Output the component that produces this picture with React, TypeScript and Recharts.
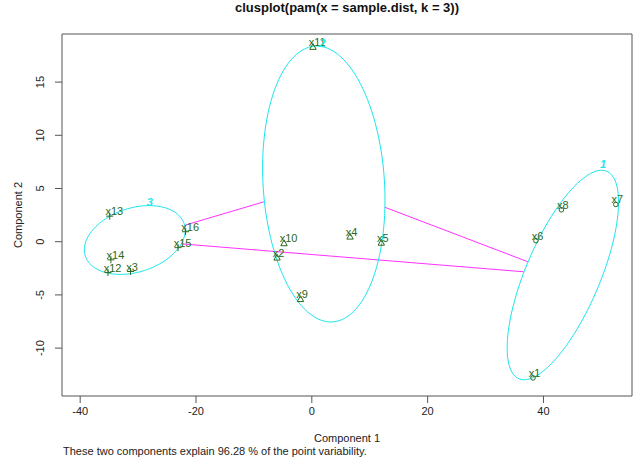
import React from "react";
import {
  ScatterChart,
  Scatter,
  XAxis,
  YAxis,
  ReferenceArea,
  ReferenceLine,
  Customized,
} from "recharts";

// ---- data ----
const pointNames = ["x1","x2","x3","x4","x5","x6","x7","x8","x9","x10","x11","x12","x13","x14","x15","x16"];
const pointX = [38.2, -6.0, -31.3, 6.6, 12.0, 38.7, 52.5, 43.1, -1.95, -4.8, 0.2, -35.2, -34.9, -34.7, -23.1, -21.8];
const pointY = [-12.8, -1.5, -2.8, 0.47, -0.1, 0.1, 3.5, 3.0, -5.4, -0.15, 18.3, -2.9, 2.4, -1.7, -0.56, 0.94];
const pointCluster = [1, 2, 3, 2, 2, 1, 1, 1, 2, 2, 2, 3, 3, 3, 3, 3];

// ellipse per cluster: centre and two conjugate semi-axis vectors (data units)
const ellipseCX = [43.35, 2.07, -30.57];
const ellipseCY = [-3.13, 5.42, 0.16];
const ellipseAX = [9.62, -1.02, 8.54];
const ellipseAY = [6.85, 12.96, 1.51];
const ellipseBX = [0, 10.52, 1.708];
const ellipseBY = [-7.07, -0.25, -2.86];

// cluster label positions
const clusterLabels = ["1", "2", "3"];
const clusterLabelX = [50.3, 1.85, -27.98];
const clusterLabelY = [7.3, 18.7, 3.76];

// segments joining clusters
const segX1 = [-21.93, -22.56, 12.59];
const segY1 = [1.55, -0.2, 3.24];
const segX2 = [-8.27, 36.65, 37.34];
const segY2 = [3.75, -2.83, -1.89];

const xTicks = [-40, -20, 0, 20, 40];
const yTicks = [-10, -5, 0, 5, 10, 15];
const xDomain: [number, number] = [-43.14, 55.29];
const yDomain: [number, number] = [-14.5, 19.52];

const FONT = "'Liberation Sans', Arial, sans-serif";
const GREEN = "#2a6a1c";
const CYAN = "#1ae6ee";
const MAGENTA = "#ff30ff";

const ellipsePoints = (i: number) => {
  const pts: { x: number; y: number }[] = [];
  const n = 120;
  for (let k = 0; k <= n; k++) {
    const t = (2 * Math.PI * k) / n;
    pts.push({
      x: ellipseCX[i] + ellipseAX[i] * Math.cos(t) + ellipseBX[i] * Math.sin(t),
      y: ellipseCY[i] + ellipseAY[i] * Math.cos(t) + ellipseBY[i] * Math.sin(t),
    });
  }
  return pts;
};

const clusterData = (c: number) =>
  pointNames
    .map((name, i) => ({ name, x: pointX[i], y: pointY[i], c: pointCluster[i] }))
    .filter((d) => d.c === c);

const labelData = clusterLabels.map((name, i) => ({ name, x: clusterLabelX[i], y: clusterLabelY[i] }));

const Empty = () => <g />;

const makeShape = (kind: number) => (props: any) => {
  const { cx, cy, payload } = props;
  let sym: React.ReactNode = null;
  if (kind === 1) {
    sym = <circle cx={cx} cy={cy} r={2.3} fill="none" stroke={GREEN} strokeWidth={1} />;
  } else if (kind === 2) {
    sym = (
      <path
        d={`M${cx},${cy - 3.4} L${cx + 3.2},${cy + 2.4} L${cx - 3.2},${cy + 2.4} Z`}
        fill="none"
        stroke={GREEN}
        strokeWidth={1}
      />
    );
  } else {
    sym = (
      <path
        d={`M${cx - 3.5},${cy} L${cx + 3.5},${cy} M${cx},${cy - 3.5} L${cx},${cy + 3.5}`}
        stroke={GREEN}
        strokeWidth={1}
      />
    );
  }
  return (
    <g>
      {sym}
      <text x={cx - 4.3} y={cy - 1} fontSize={11} fontFamily={FONT} fill={GREEN}>
        {payload.name}
      </text>
    </g>
  );
};

const clusterLabelShape = (props: any) => {
  const { cx, cy, payload } = props;
  return (
    <text
      x={cx}
      y={cy}
      textAnchor="middle"
      dominantBaseline="central"
      fontSize={11}
      fontStyle="italic"
      fontWeight="bold"
      fontFamily={FONT}
      fill={CYAN}
    >
      {payload.name}
    </text>
  );
};

const YTick = (props: any) => {
  const { x, y, payload } = props;
  const cx = x - 13.5;
  return (
    <text
      transform={`translate(${cx},${y}) rotate(-90)`}
      textAnchor="middle"
      dominantBaseline="central"
      fontSize={11}
      fontFamily={FONT}
      fill="#222"
    >
      {payload.value}
    </text>
  );
};

const Texts = () => (
  <g fontFamily={FONT}>
    <text x={347} y={12} textAnchor="middle" fontSize={13} fontWeight="bold" fill="#111">
      clusplot(pam(x = sample.dist, k = 3))
    </text>
    <text x={347} y={442} textAnchor="middle" fontSize={11} fill="#222">
      Component 1
    </text>
    <text x={63} y={455} fontSize={11} fill="#222">
      These two components explain 96.28 % of the point variability.
    </text>
    <text transform="translate(22,215) rotate(-90)" textAnchor="middle" fontSize={11} fill="#222">
      Component 2
    </text>
  </g>
);

export default function App() {
  return (
    <div style={{ position: "absolute", left: 0, top: 0, background: "#fff" }}>
      <ScatterChart width={642} height={461} margin={{ top: 34, right: 10, bottom: 0, left: 0 }}>
        <XAxis
          type="number"
          dataKey="x"
          domain={xDomain}
          ticks={xTicks}
          allowDataOverflow
          axisLine={false}
          tickSize={7}
          tickMargin={4}
          tickLine={{ stroke: "#555" }}
          tick={{ fontSize: 11, fill: "#222", fontFamily: FONT }}
          height={65}
        />
        <YAxis
          type="number"
          dataKey="y"
          domain={yDomain}
          ticks={yTicks}
          allowDataOverflow
          axisLine={false}
          tickSize={7}
          tickMargin={2}
          tickLine={{ stroke: "#555" }}
          tick={<YTick />}
          width={62}
        />
        <ReferenceArea
          x1={xDomain[0]}
          x2={xDomain[1]}
          y1={yDomain[0]}
          y2={yDomain[1]}
          fill="none"
          fillOpacity={0}
          stroke="#555"
          strokeWidth={1}
          ifOverflow="visible"
        />
        {[0, 1, 2].map((i) => (
          <ReferenceLine
            key={`seg${i}`}
            segment={[
              { x: segX1[i], y: segY1[i] },
              { x: segX2[i], y: segY2[i] },
            ]}
            stroke={MAGENTA}
            strokeWidth={1}
            ifOverflow="visible"
          />
        ))}
        {[0, 1, 2].map((i) => (
          <Scatter
            key={`ell${i}`}
            data={ellipsePoints(i)}
            line={{ stroke: CYAN, strokeWidth: 1 }}
            lineType="joint"
            shape={<Empty />}
            isAnimationActive={false}
          />
        ))}
        {[1, 2, 3].map((c) => (
          <Scatter
            key={`pts${c}`}
            data={clusterData(c)}
            shape={makeShape(c)}
            isAnimationActive={false}
          />
        ))}
        <Scatter data={labelData} shape={clusterLabelShape} isAnimationActive={false} />
        <Customized component={Texts} />
      </ScatterChart>
    </div>
  );
}
